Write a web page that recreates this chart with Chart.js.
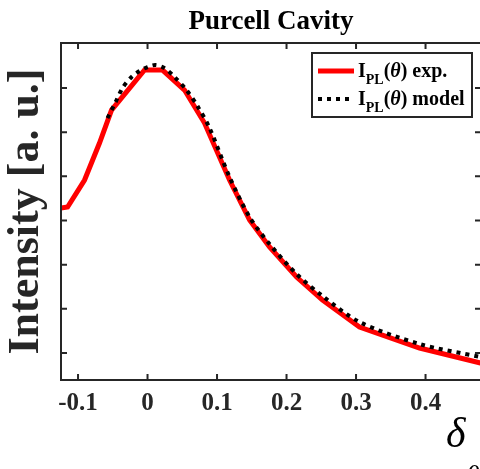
<!DOCTYPE html>
<html>
<head>
<meta charset="utf-8">
<script src="https://cdn.jsdelivr.net/npm/chart.js@4.4.1/dist/chart.umd.min.js"></script>
<style>
  html, body { margin: 0; padding: 0; background: #ffffff; overflow: hidden; }
  #wrap { width: 484px; height: 469px; position: relative; }
</style>
</head>
<body>
<div id="wrap"><canvas id="c" width="484" height="469"></canvas></div>
<script>
// ---- data ----
const expDelta = [-0.1245, -0.115, -0.0906, -0.0691, -0.0518, -0.0043, 0.0216, 0.0532, 0.0820, 0.1180, 0.1468, 0.1755, 0.2144, 0.2518, 0.3050, 0.3914, 0.4791];
const expIntensity = [4.283, 4.305, 4.917, 5.754, 6.501, 7.407, 7.407, 6.954, 6.207, 4.917, 4.011, 3.400, 2.721, 2.200, 1.589, 1.113, 0.774];

const modelDelta = [-0.0576, -0.046, -0.036, -0.023, -0.0115, 0.0, 0.0115, 0.0245, 0.0388, 0.0561, 0.0719, 0.0892, 0.118, 0.1468, 0.1755, 0.2144, 0.2518, 0.305, 0.3914, 0.4791];
const modelIntensity = [6.320, 6.68, 7.00, 7.25, 7.385, 7.475, 7.52, 7.45, 7.25, 6.954, 6.59, 6.094, 4.985, 4.079, 3.468, 2.789, 2.290, 1.702, 1.204, 0.909];

const xTickValues = [-0.1, 0, 0.1, 0.2, 0.3, 0.4];
const xTickLabels = ['-0.1', '0', '0.1', '0.2', '0.3', '0.4'];
const yTickValues = [1, 2, 3, 4, 5, 6, 7];

const titleText = 'Purcell Cavity';
const yLabel = 'Intensity [a. u.]';

const toPoints = (xs, ys) => xs.map((x, i) => ({ x: x, y: ys[i] }));

const AXIS_COLOR = '#262626';
const SERIF = '"Liberation Serif", "Times New Roman", serif';

// frame with inward ticks on all four sides
const framePlugin = {
  id: 'frame',
  afterDatasetsDraw(chart) {
    const { ctx, chartArea: a, scales } = chart;
    const tl = 6;
    ctx.save();
    ctx.strokeStyle = AXIS_COLOR;
    ctx.lineWidth = 2;
    ctx.strokeRect(a.left, a.top, a.right - a.left, a.bottom - a.top);
    ctx.beginPath();
    scales.x.ticks.forEach(t => {
      const px = scales.x.getPixelForValue(t.value);
      ctx.moveTo(px, a.bottom); ctx.lineTo(px, a.bottom - tl);
      ctx.moveTo(px, a.top); ctx.lineTo(px, a.top + tl);
    });
    scales.y.ticks.forEach(t => {
      const py = scales.y.getPixelForValue(t.value);
      ctx.moveTo(a.left, py); ctx.lineTo(a.left + tl, py);
      ctx.moveTo(a.right, py); ctx.lineTo(a.right - tl, py);
    });
    ctx.stroke();
    ctx.restore();
  }
};

// legend with subscripts, and delta label
const annotPlugin = {
  id: 'annot',
  afterDraw(chart) {
    const { ctx } = chart;
    ctx.save();
    // legend box
    const bx = 312, by = 53, bw = 160, bh = 64;
    ctx.fillStyle = '#ffffff';
    ctx.fillRect(bx, by, bw, bh);
    ctx.strokeStyle = AXIS_COLOR;
    ctx.lineWidth = 2;
    ctx.strokeRect(bx, by, bw, bh);

    const rows = [
      { y: 71, color: '#ff0000', width: 5, dash: [], tail: ') exp.' },
      { y: 99, color: '#000000', width: 4, dash: [4, 5], tail: ') model' }
    ];
    rows.forEach(r => {
      ctx.beginPath();
      ctx.setLineDash(r.dash);
      ctx.lineCap = 'butt';
      ctx.strokeStyle = r.color;
      ctx.lineWidth = r.width;
      ctx.moveTo(318, r.y);
      ctx.lineTo(354, r.y);
      ctx.stroke();
      ctx.setLineDash([]);

      ctx.fillStyle = '#000000';
      ctx.textBaseline = 'alphabetic';
      ctx.textAlign = 'left';
      let x = 358;
      const base = r.y + 6;
      ctx.font = 'bold 20px ' + SERIF;
      ctx.fillText('I', x, base); x += ctx.measureText('I').width;
      ctx.font = 'bold 14px ' + SERIF;
      ctx.fillText('PL', x, base + 7); x += ctx.measureText('PL').width;
      ctx.font = 'bold 20px ' + SERIF;
      ctx.fillText('(', x, base); x += ctx.measureText('(').width;
      ctx.font = 'italic bold 20px ' + SERIF;
      ctx.fillText('θ', x, base); x += ctx.measureText('θ').width;
      ctx.font = 'bold 20px ' + SERIF;
      ctx.fillText(r.tail, x, base);
    });

    // x-axis label delta_theta at bottom right
    ctx.fillStyle = '#000000';
    ctx.font = 'italic 42px ' + SERIF;
    ctx.fillText('δ', 446, 447);
    ctx.font = 'italic 28px ' + SERIF;
    ctx.fillText('θ', 466, 484);
    ctx.restore();
  }
};

new Chart(document.getElementById('c'), {
  type: 'scatter',
  data: {
    datasets: [
      {
        label: 'I_PL(θ) exp.',
        data: toPoints(expDelta, expIntensity),
        showLine: true,
        borderColor: '#ff0000',
        borderWidth: 5,
        pointRadius: 0,
        tension: 0,
        order: 2
      },
      {
        label: 'I_PL(θ) model',
        data: toPoints(modelDelta, modelIntensity),
        showLine: true,
        borderColor: '#000000',
        borderWidth: 4,
        borderDash: [4, 5],
        pointRadius: 0,
        tension: 0.3,
        order: 1
      }
    ]
  },
  options: {
    responsive: false,
    devicePixelRatio: 1,
    animation: false,
    layout: { padding: { top: 0, right: 3, left: 0, bottom: 0 } },
    plugins: {
      legend: { display: false },
      tooltip: { enabled: false },
      title: {
        display: true,
        text: titleText,
        fullSize: false,
        color: '#000000',
        font: { family: SERIF, size: 27, weight: 'bold', lineHeight: 1.2 },
        padding: { top: 6, bottom: 4.6 }
      }
    },
    scales: {
      x: {
        type: 'linear',
        min: -0.1245,
        max: 0.4798,
        afterBuildTicks: s => { s.ticks = xTickValues.map(v => ({ value: v })); },
        afterFit: s => { s.height = 89; },
        grid: { display: false, drawTicks: false },
        border: { display: false },
        ticks: {
          autoSkip: false,
          maxRotation: 0,
          padding: 11,
          color: AXIS_COLOR,
          font: { family: SERIF, size: 25, weight: 'bold', lineHeight: 1 },
          callback: (v, i) => xTickLabels[i]
        }
      },
      y: {
        type: 'linear',
        min: 0.389,
        max: 8.019,
        afterBuildTicks: s => { s.ticks = yTickValues.map(v => ({ value: v })); },
        afterFit: s => { s.width = 61; },
        grid: { display: false, drawTicks: false },
        border: { display: false },
        ticks: { display: false },
        title: {
          display: true,
          text: yLabel,
          color: AXIS_COLOR,
          font: { family: SERIF, size: 44, weight: 'bold', lineHeight: 1 },
          padding: { top: 5, bottom: 0 }
        }
      }
    }
  },
  plugins: [framePlugin, annotPlugin]
});
</script>
</body>
</html>
